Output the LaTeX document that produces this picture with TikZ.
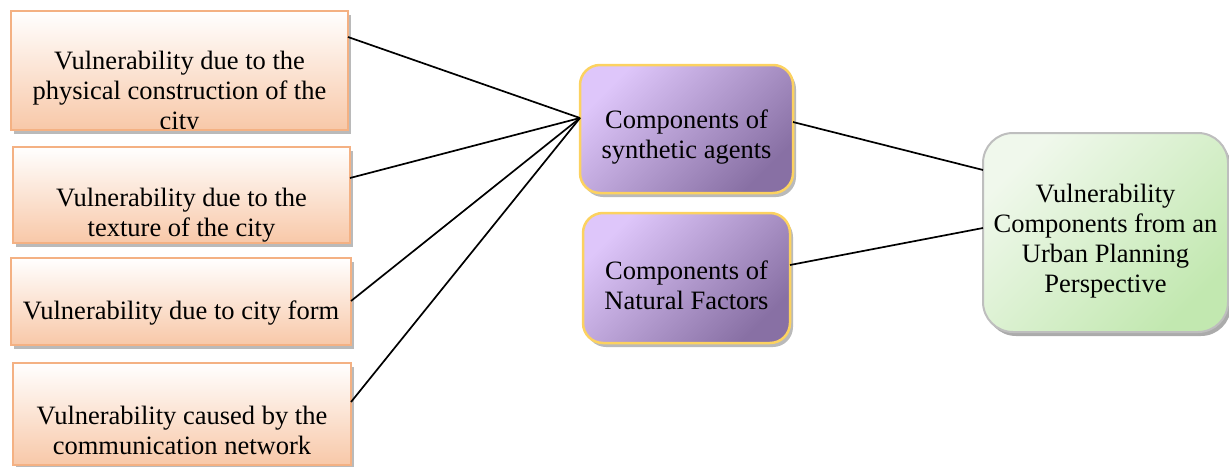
\documentclass[tikz,border=0pt]{standalone}
\usepackage{fontspec}
\setmainfont{Liberation Serif}
\usetikzlibrary{shadows,calc}
\definecolor{orbord}{RGB}{244,177,131}
\definecolor{orbot}{RGB}{248,200,168}
\definecolor{purtl}{RGB}{222,198,250}
\definecolor{purbr}{RGB}{136,112,164}
\definecolor{yelbord}{RGB}{252,210,96}
\definecolor{grtl}{RGB}{240,248,236}
\definecolor{grbr}{RGB}{194,232,176}
\definecolor{grbord}{RGB}{190,190,190}
\tikzset{
  orbox/.style={draw=orbord, line width=2pt, top color=white, bottom color=orbot,
    drop shadow={shadow xshift=3pt, shadow yshift=-4pt, fill=black!45, opacity=0.6}},
  purbox/.style={draw=yelbord, line width=2.5pt, rounded corners=20pt,
    shading=axis, left color=purtl, right color=purbr, shading angle=45,
    drop shadow={shadow xshift=3pt, shadow yshift=-4pt, fill=black!45, opacity=0.6}},
  grbox/.style={draw=grbord, line width=2pt, rounded corners=30pt,
    shading=axis, left color=grtl, right color=grbr, shading angle=45,
    drop shadow={shadow xshift=3pt, shadow yshift=-4pt, fill=black!55, opacity=0.6}},
  txt/.style={font=\fontsize{26.5}{30}\selectfont, align=center, inner sep=0pt},
  conn/.style={line width=1.7pt, black},
}
\begin{document}
\begin{tikzpicture}[x=1pt,y=-1pt]
\useasboundingbox (0,0) rectangle (1229,466);
% left boxes
\path[orbox] (11,11) rectangle (348,130);
\begin{scope}
\clip (11,11) rectangle (348,128);
\node[txt] (t1) at (179.5,93) {Vulnerability due to the\\physical construction of the\\city};
\end{scope}
\path[orbox] (13,147) rectangle (350,243);
\node[txt] (t2) at (181.5,215) {Vulnerability due to the\\texture of the city};
\path[orbox] (11,258) rectangle (351,345);
\node[txt] (t3) at (181,313) {Vulnerability due to city form};
\path[orbox] (13,363) rectangle (351,465);
\node[txt] (t4) at (182,430) {Vulnerability caused by the\\communication network};
% named anchors on box edges
\coordinate (e1) at (348,37);
\coordinate (e2) at (350,178);
\coordinate (e3) at (351,301);
\coordinate (e4) at (351,402);
% purple boxes
\node[purbox, minimum width=213pt, minimum height=128pt] (p1) at (686.5,129) {};
\node[txt] (p1t) at (686.5,137) {Components of\\synthetic agents};
\node[purbox, minimum width=207pt, minimum height=130pt] (p2) at (686.5,278) {};
\node[txt] (p2t) at (686.5,285) {Components of\\Natural Factors};
% green box
\node[grbox, minimum width=245pt, minimum height=199pt] (g) at (1105.5,232.5) {};
\node[txt] (gt) at (1105.5,241) {Vulnerability\\Components from an\\Urban Planning\\Perspective};
% connectors
\coordinate (pin) at (580,118);
\draw[conn] (e1) -- (pin);
\draw[conn] (e2) -- (pin);
\draw[conn] (e3) -- (pin);
\draw[conn] (e4) -- (pin);
\coordinate (p1out) at (793,122);
\coordinate (p2out) at (790,265);
\coordinate (gin1) at (983,170);
\coordinate (gin2) at (983,228);
\draw[conn] (p1out) -- (gin1);
\draw[conn] (p2out) -- (gin2);
\end{tikzpicture}
\end{document}
